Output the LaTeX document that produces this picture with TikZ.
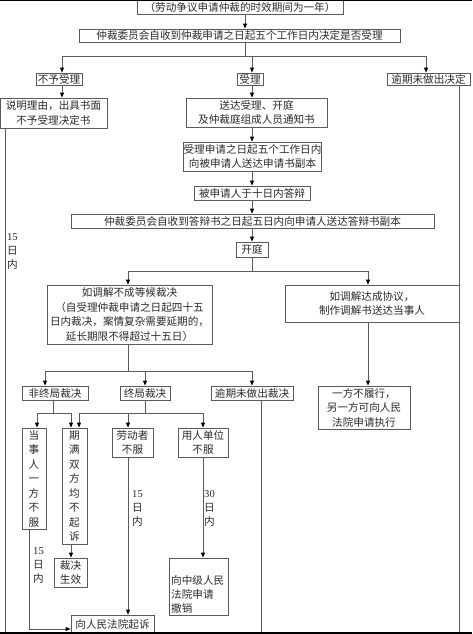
\documentclass[tikz,border=0pt]{standalone}
\usepackage{fontspec}
\setmainfont{Noto Sans CJK SC}
\newfontfamily\digitfont{Liberation Serif}
\usetikzlibrary{arrows.meta}
\definecolor{lc}{HTML}{5A5A5A}
\definecolor{tc}{HTML}{2A2A2A}
\tikzset{
  box/.style={draw=lc, line width=0.8pt, inner sep=0pt, text=tc, align=center,
    font=\fontsize{10.6}{14.5}\selectfont},
  ln/.style={draw=lc, line width=0.9pt},
  arr/.style={ln, -{Triangle[length=5pt,width=4pt,color=black]}},
  lbl/.style={text=tc, inner sep=0pt, align=left, font=\fontsize{10.6}{14}\selectfont},
}
\begin{document}
\begin{tikzpicture}[x=1pt,y=-1pt]
\useasboundingbox[fill=white] (0,0) rectangle (472,634);

% nodes
\node[box, minimum width=206, minimum height=14] (top) at (240,7) {（劳动争议申请仲裁的时效期间为一年）};
\node[box, minimum width=321, minimum height=13] (b2) at (239.5,35.5) {仲裁委员会自收到仲裁申请之日起五个工作日内决定是否受理};
\node[box, minimum width=46, minimum height=12] (nosl) at (59,79) {不予受理};
\node[box, minimum width=26, minimum height=12] (sl) at (250,79) {受理};
\node[box, minimum width=83, minimum height=12] (overdue) at (428.5,79) {逾期未做出决定};
\node[box, minimum width=107, minimum height=30] (reason) at (53.5,113) {说明理由，出具书面\\不予受理决定书};
\node[box, minimum width=141, minimum height=29] (notice) at (256.5,112.5) {送达受理、开庭\\及仲裁庭组成人员通知书};
\node[box, minimum width=133, minimum height=29] (copy) at (252.5,156.5) {受理申请之日起五个工作日内\\向被申请人送达申请书副本};
\node[box, minimum width=116, minimum height=14] (reply) at (252,193) {被申请人于十日内答辩};
\node[box, minimum width=363, minimum height=14] (copy2) at (252.5,221) {仲裁委员会自收到答辩书之日起五日内向申请人送达答辩书副本};
\node[box, minimum width=32, minimum height=15] (hearing) at (252,249.5) {开庭};
\node[box, minimum width=165, minimum height=59] (fail) at (129.5,314.5) {如调解不成等候裁决\\（自受理仲裁申请之日起四十五\\日内裁决，案情复杂需要延期的，\\延长期限不得超过十五日）};
\node[box, minimum width=174, minimum height=37] (agree) at (372,303.5) {如调解达成协议，\\制作调解书送达当事人};
\node[box, minimum width=92, minimum height=43] (exec) at (364,407.5) {一方不履行，\\另一方可向人民\\法院申请执行};
\node[box, minimum width=66, minimum height=14] (nonfinal) at (55,393) {非终局裁决};
\node[box, minimum width=50, minimum height=14] (final) at (145,393) {终局裁决};
\node[box, minimum width=82, minimum height=14] (overdue2) at (252,393) {逾期未做出裁决};
\node[box, minimum width=24, minimum height=101] (party) at (34,478.5) {当\\事\\人\\一\\方\\不\\服};
\node[box, minimum width=25, minimum height=116] (expire) at (74.5,486) {期\\满\\双\\方\\均\\不\\起\\诉};
\node[box, minimum width=33, minimum height=29] (effect) at (70.5,572.5) {裁决\\生效};
\node[box, minimum width=41, minimum height=29] (worker) at (132.5,442.5) {劳动者\\不服};
\node[box, minimum width=50, minimum height=29] (employer) at (203,442.5) {用人单位\\不服};
\node[box, minimum width=59, minimum height=57] (revoke) at (198.5,586.5) {};
\node[lbl, anchor=west] (revoketxt) at (171,594) {向中级人民\\法院申请\\撤销};
\node[box, minimum width=83, minimum height=18] (sue) at (112.5,624) {向人民法院起诉};

% labels
\node[lbl, anchor=west] (l1) at (7,251) {{\digitfont 15}\\日\\内};
\node[lbl, anchor=west] (l2) at (132,508.5) {{\digitfont 15}\\日\\内};
\node[lbl, anchor=west] (l3) at (204,508.5) {{\digitfont 30}\\日\\内};
\node[lbl, anchor=west] (l4) at (33,565.5) {{\digitfont 15}\\日\\内};

% junction coordinates
\coordinate (j1) at (245,56);
\coordinate (j1L) at (62,56);
\coordinate (j1R) at (426,56);
\coordinate (j2) at (252,271);
\coordinate (j2L) at (128,271);
\coordinate (j2R) at (368,271);
\coordinate (j3) at (128,371);
\coordinate (j3L) at (45,371);
\coordinate (j3R) at (252,371);
\coordinate (j4) at (53,413);
\coordinate (j4L) at (37,413);
\coordinate (j4R) at (71,413);
\coordinate (j5) at (145,413);
\coordinate (j5L) at (79,413);
\coordinate (j5R) at (203,413);
\coordinate (lb) at (5,634);
\coordinate (rb) at (459,634);
\coordinate (mb) at (261,634);
\coordinate (pc) at (29,629);

% connectors
\draw[arr] (top.south -| j1) -- (b2.north -| j1);
\draw[ln] (b2.south -| j1) -- (j1);
\draw[ln] (j1L) -- (j1R);
\draw[arr] (j1L) -- (nosl.north -| j1L);
\draw[arr] (j1 -| 252,0) -- (sl.north -| 252,0);
\draw[arr] (j1R) -- (overdue.north -| j1R);
\draw[arr] (nosl.south -| j1L) -- (reason.north -| j1L);
\draw[ln] (reason.south -| lb) -- (lb);
\draw[ln] (overdue.south -| rb) -- (rb);

\draw[arr] (sl.south -| j2) -- (notice.north -| j2);
\draw[arr] (notice.south -| j2) -- (copy.north -| j2);
\draw[arr] (copy.south -| j2) -- (reply.north -| j2);
\draw[arr] (reply.south -| j2) -- (copy2.north -| j2);
\draw[arr] (copy2.south -| j2) -- (hearing.north -| j2);
\draw[ln] (hearing.south -| j2) -- (j2);
\draw[ln] (j2L) -- (j2R);
\draw[arr] (j2L) -- (fail.north -| j2L);
\draw[arr] (j2R) -- (agree.north -| j2R);
\draw[arr] (agree.south -| j2R) -- (exec.north -| j2R);

\draw[ln] (fail.south -| j3) -- (j3);
\draw[ln] (j3L) -- (j3R);
\draw[arr] (j3L) -- (nonfinal.north -| j3L);
\draw[arr] (j3 -| j5) -- (final.north -| j5);
\draw[arr] (j3R) -- (overdue2.north -| j3R);
\draw[ln] (overdue2.south -| mb) -- (mb);

\draw[ln] (nonfinal.south -| j4) -- (j4);
\draw[ln] (j4L) -- (j4R);
\draw[arr] (j4L) -- (party.north -| j4L);
\draw[arr] (j4R) -- (expire.north -| j4R);
\draw[ln] (final.south -| j5) -- (j5);
\draw[ln] (j5L) -- (j5R);
\draw[arr] (j5L) -- (expire.north -| j5L);
\draw[arr] (j5 -| 128,0) -- (worker.north -| 128,0);
\draw[arr] (j5R) -- (employer.north -| j5R);

\draw[arr] (expire.south -| j4R) -- (effect.north -| j4R);
\draw[arr] (worker.south -| 128,0) -- (sue.north -| 128,0);
\draw[arr] (employer.south -| j5R) -- (revoke.north -| j5R);
\draw[arr] (party.south -| pc) |- (sue.west |- pc);

% image edge bars
\fill[black] (0,0) rectangle (472,1.5);
\fill[black] (0,632) rectangle (472,634);
\end{tikzpicture}
\end{document}
